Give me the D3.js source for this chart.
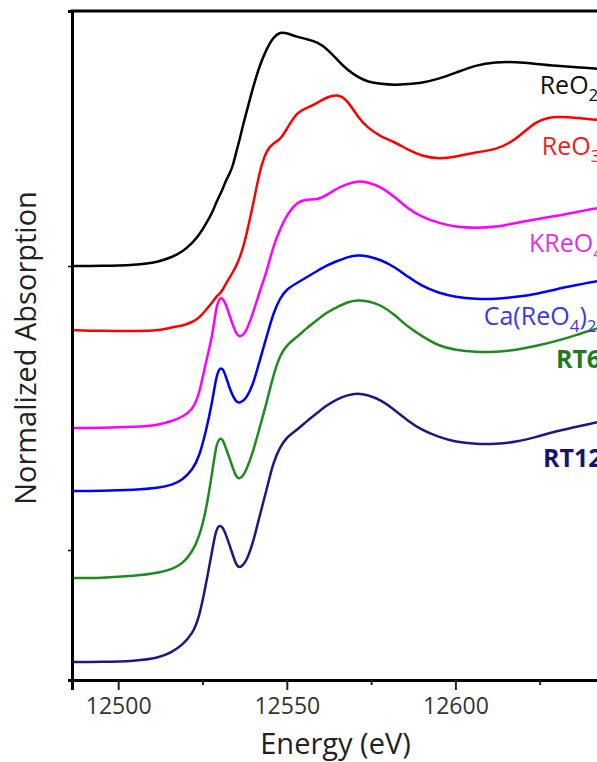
<!DOCTYPE html>
<html>
<head>
<meta charset="utf-8">
<script src="https://cdn.jsdelivr.net/npm/d3@7"></script>
<style>
  body { margin: 0; background: #fff; }
  svg { display: block; font-family: 'Open Sans', sans-serif; }
</style>
</head>
<body>
<svg id="chart" width="597" height="762"></svg>
<script>
// Energy grid (eV), shared by all spectra
const energy = [12486, 12495, 12505, 12512, 12516, 12519, 12522, 12524, 12526, 12528,
  12529, 12530, 12531, 12532, 12533, 12534, 12535, 12536, 12537, 12538,
  12540, 12542, 12544, 12546, 12548, 12550, 12553, 12556, 12559, 12562,
  12565, 12568, 12571, 12574, 12578, 12582, 12586, 12590, 12595, 12600,
  12606, 12612, 12618, 12624, 12630, 12636, 12642, 12650];

// Absorption above each spectrum's pre-edge level
const reo2 = [0, 0, 0.01, 0.04, 0.09, 0.14, 0.23, 0.31, 0.42, 0.54,
  0.63, 0.70, 0.77, 0.86, 0.92, 1.00, 1.14, 1.26, 1.41, 1.53,
  1.79, 2.01, 2.17, 2.29, 2.34, 2.33, 2.29, 2.27, 2.24, 2.17,
  2.06, 1.96, 1.89, 1.84, 1.82, 1.81, 1.82, 1.83, 1.87, 1.93,
  2.01, 2.04, 2.04, 2.02, 2.00, 1.99, 1.97, 1.96];
const reo3 = [0.01, 0, 0, 0, 0.04, 0.05, 0.09, 0.13, 0.21, 0.29,
  0.34, 0.37, 0.41, 0.48, 0.53, 0.59, 0.65, 0.73, 0.83, 0.96,
  1.26, 1.61, 1.81, 1.88, 1.91, 2.02, 2.19, 2.23, 2.28, 2.34,
  2.37, 2.31, 2.14, 2.03, 1.94, 1.89, 1.81, 1.75, 1.72, 1.74,
  1.79, 1.81, 1.91, 2.11, 2.15, 2.13, 2.11, 2.10];
const kreo4 = [0, 0, 0.01, 0.03, 0.07, 0.11, 0.18, 0.33, 0.66, 0.93,
  1.20, 1.30, 1.30, 1.23, 1.13, 1.03, 0.94, 0.91, 0.93, 0.97,
  1.15, 1.37, 1.56, 1.82, 1.99, 2.13, 2.26, 2.29, 2.28, 2.33,
  2.40, 2.44, 2.47, 2.46, 2.41, 2.31, 2.19, 2.11, 2.05, 2.01,
  2.00, 2.01, 2.05, 2.09, 2.12, 2.16, 2.20, 2.24];
const careo4 = [0, 0, 0.01, 0.03, 0.06, 0.11, 0.21, 0.34, 0.59, 0.91,
  1.13, 1.23, 1.23, 1.14, 1.03, 0.95, 0.89, 0.88, 0.90, 0.93,
  1.06, 1.31, 1.54, 1.78, 1.93, 2.02, 2.08, 2.14, 2.20, 2.26,
  2.30, 2.34, 2.36, 2.35, 2.31, 2.24, 2.14, 2.05, 1.98, 1.94,
  1.92, 1.92, 1.94, 1.97, 2.02, 2.06, 2.10, 2.14];
const rt6 = [0, 0, 0.02, 0.05, 0.09, 0.14, 0.26, 0.41, 0.66, 1.08,
  1.32, 1.40, 1.39, 1.29, 1.20, 1.10, 1.01, 0.99, 1.02, 1.08,
  1.26, 1.51, 1.75, 2.03, 2.23, 2.33, 2.41, 2.50, 2.58, 2.66,
  2.71, 2.76, 2.78, 2.77, 2.73, 2.63, 2.51, 2.42, 2.32, 2.28,
  2.26, 2.26, 2.28, 2.32, 2.37, 2.43, 2.50, 2.56];
const rt12 = [0, 0, 0.01, 0.04, 0.10, 0.17, 0.28, 0.44, 0.77, 1.14,
  1.32, 1.37, 1.35, 1.27, 1.17, 1.07, 0.97, 0.94, 0.97, 1.01,
  1.19, 1.47, 1.72, 2.00, 2.15, 2.25, 2.32, 2.41, 2.49, 2.57,
  2.63, 2.67, 2.69, 2.67, 2.62, 2.52, 2.41, 2.32, 2.25, 2.20,
  2.18, 2.18, 2.20, 2.25, 2.31, 2.35, 2.40, 2.45];

// Vertical stacking offsets
const offsets = [4.14, 3.49, 2.52, 1.89, 1.02, 0.18];

// Axis ticks
const xTicks = [12500, 12525, 12550, 12575, 12600, 12625];
const xLabels = [12500, 12550, 12600];
const yTicks = [1.30, 4.14];

const series = [reo2, reo3, kreo4, careo4, rt6, rt12];
const lineColors = ['#000000', '#ff0000', '#ff00ff', '#0000ff', '#1f8a1f', '#1a1a80'];

const svg = d3.select('#chart');
const margin = { top: 11, left: 72, bottom: 680, right: 624 };

const x = d3.scaleLinear().domain([12486.3, 12650]).range([margin.left, margin.right]);
const y = d3.scaleLinear().domain([0, 6.69]).range([margin.bottom, margin.top]);

svg.append('defs').append('clipPath')
  .attr('id', 'clip')
  .append('rect')
  .attr('x', margin.left)
  .attr('y', margin.top)
  .attr('width', margin.right - margin.left)
  .attr('height', margin.bottom - margin.top);

// Spectra
const line = d3.line()
  .x((d) => x(d[0]))
  .y((d) => y(d[1]))
  .curve(d3.curveBasis);

svg.append('g')
  .attr('clip-path', 'url(#clip)')
  .selectAll('path')
  .data(series)
  .enter()
  .append('path')
  .attr('fill', 'none')
  .attr('stroke', (d, i) => lineColors[i])
  .attr('stroke-width', 2.5)
  .attr('stroke-linejoin', 'round')
  .attr('d', (d, i) => line(d.map((v, j) => [energy[j], v + offsets[i]])));

// X axis
const xAxis = d3.axisBottom(x)
  .tickValues(xTicks)
  .tickSize(10)
  .tickPadding(8)
  .tickFormat((d) => (xLabels.includes(d) ? d : ''));

const gx = svg.append('g')
  .attr('transform', `translate(0,${margin.bottom})`)
  .call(xAxis);
gx.select('.domain').attr('stroke', '#000').attr('stroke-width', 3);
gx.selectAll('.tick line')
  .attr('stroke', '#222')
  .attr('stroke-width', 2)
  .attr('y2', (d) => (xLabels.includes(d) ? 10 : 5));
gx.selectAll('.tick text')
  .attr('fill', '#333')
  .style('font-size', '23px')
  .style('font-family', "'Open Sans', sans-serif");

// Y axis (no labels)
const gy = svg.append('g')
  .attr('transform', `translate(${margin.left},0)`)
  .call(d3.axisLeft(y).tickValues(yTicks).tickSize(4).tickFormat(''));
gy.select('.domain').attr('stroke', '#000').attr('stroke-width', 3);
gy.selectAll('.tick line').attr('stroke', '#000').attr('stroke-width', 1.5);

// Top frame line
svg.append('line')
  .attr('x1', margin.left - 1.5)
  .attr('x2', 700)
  .attr('y1', margin.top)
  .attr('y2', margin.top)
  .attr('stroke', '#000')
  .attr('stroke-width', 3);

// Axis titles
svg.append('text')
  .attr('x', (margin.left + 597) / 2 + 1)
  .attr('y', 754)
  .attr('text-anchor', 'middle')
  .attr('fill', '#222')
  .style('font-size', '29px')
  .text('Energy (eV)');

svg.append('text')
  .attr('transform', 'translate(36,348) rotate(-90)')
  .attr('text-anchor', 'middle')
  .attr('fill', '#222')
  .style('font-size', '29px')
  .text('Normalized Absorption');

// Spectrum labels
const labels = [
  { parts: [['ReO', 0], ['2', 1]], e: 12625, v: 5.86, color: '#111', bold: false },
  { parts: [['ReO', 0], ['3', 1]], e: 12625.6, v: 5.25, color: '#ee2222', bold: false },
  { parts: [['KReO', 0], ['4', 1]], e: 12621.8, v: 4.28, color: '#e033e0', bold: false },
  { parts: [['Ca(ReO', 0], ['4', 1], [')', 0], ['2', 1]], e: 12608.4, v: 3.55, color: '#3a3ae8', bold: false },
  { parts: [['RT6', 0]], e: 12629.8, v: 3.12, color: '#1e7a1e', bold: true },
  { parts: [['RT12', 0]], e: 12626, v: 2.13, color: '#15156e', bold: true },
];

labels.forEach((l) => {
  const t = svg.append('text')
    .attr('x', x(l.e))
    .attr('y', y(l.v))
    .attr('fill', l.color)
    .style('font-size', '25px')
    .style('font-weight', l.bold ? 'bold' : 'normal');
  let shifted = false;
  l.parts.forEach(([s, sub]) => {
    const ts = t.append('tspan').text(s);
    if (sub && !shifted) { ts.attr('dy', 7).style('font-size', '17px'); shifted = true; }
    else if (sub) { ts.style('font-size', '17px'); }
    else if (shifted) { ts.attr('dy', -7); shifted = false; }
  });
});
</script>
</body>
</html>
